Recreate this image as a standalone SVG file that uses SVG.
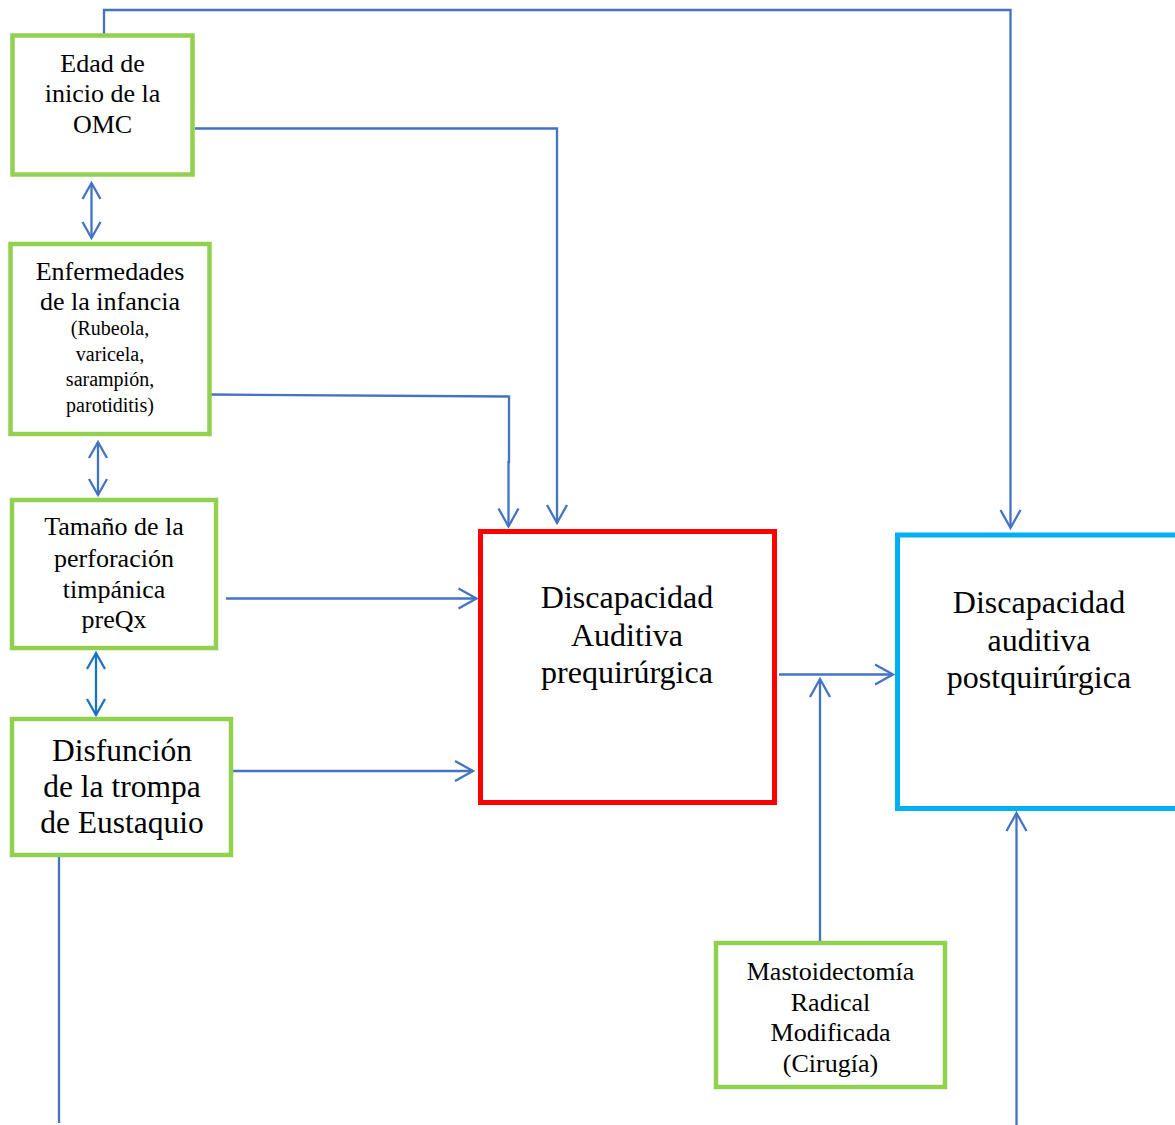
<svg xmlns="http://www.w3.org/2000/svg" width="1175" height="1125" viewBox="0 0 1175 1125">
<style>
.g{fill:#fff;stroke:#92D050;stroke-width:4.5}
.t{font-family:"Liberation Serif","Times New Roman",serif;fill:#000;text-anchor:middle}
.c{fill:none;stroke:#4472C4;stroke-width:2.3}
</style>
<defs>
<marker id="ah" markerUnits="userSpaceOnUse" markerWidth="24" markerHeight="24" viewBox="-20 -12 22 24" refX="0" refY="0" orient="auto">
<path d="M-18,-10 L0,0 L-18,10" fill="none" stroke="#4472C4" stroke-width="2.3"/>
</marker>
<marker id="as" markerUnits="userSpaceOnUse" markerWidth="22" markerHeight="22" viewBox="-18 -11 20 22" refX="0" refY="0" orient="auto-start-reverse">
<path d="M-16,-9 L0,0 L-16,9" fill="none" stroke="#4472C4" stroke-width="2.3"/>
</marker>
<marker id="as2" markerUnits="userSpaceOnUse" markerWidth="22" markerHeight="22" viewBox="-18 -11 20 22" refX="0" refY="0" orient="auto-start-reverse">
<path d="M-16,-9 L0,0 L-16,9" fill="none" stroke="#1A72C0" stroke-width="2.3"/>
</marker>
</defs>
<rect width="1175" height="1125" fill="#fff"/>
<g id="connectors">
<polyline class="c" points="104,35 104,10 1010.5,10 1010.5,528" marker-end="url(#ah)"/>
<polyline class="c" points="195,128.5 557,128.5 557,523" marker-end="url(#ah)"/>
<polyline class="c" points="210,394.5 509,396.5 509,462 508.5,462 508.5,526.5" marker-end="url(#ah)"/>
<line class="c" x1="226" y1="598.5" x2="476.5" y2="598.5" marker-end="url(#ah)"/>
<line class="c" x1="233" y1="771" x2="473" y2="771" marker-end="url(#ah)"/>
<line class="c" x1="779" y1="674.5" x2="893" y2="674.5" marker-end="url(#ah)"/>
<line class="c" x1="820" y1="941" x2="820" y2="679" marker-end="url(#ah)"/>
<line class="c" x1="1016.5" y1="1125" x2="1016.5" y2="813" marker-end="url(#ah)"/>
<line class="c" x1="59" y1="855" x2="59" y2="1123"/>
<line class="c" x1="91.5" y1="183" x2="91.5" y2="238" marker-start="url(#as)" marker-end="url(#as)"/>
<line class="c" x1="98" y1="442" x2="98" y2="495" marker-start="url(#as)" marker-end="url(#as)"/>
<line x1="96" y1="653" x2="96" y2="715" fill="none" stroke="#1A72C0" stroke-width="2.3" marker-start="url(#as2)" marker-end="url(#as2)"/>
</g>
<g id="edad">
<rect class="g" x="12.5" y="35.5" width="180" height="139"/>
<text class="t" font-size="26" x="102.5" y="72">Edad de</text>
<text class="t" font-size="26" x="102.5" y="102">inicio de la</text>
<text class="t" font-size="26" x="102.5" y="133">OMC</text>
</g>
<g id="enfermedades">
<rect class="g" x="10.5" y="244" width="199" height="190"/>
<text class="t" font-size="26" x="110" y="280">Enfermedades</text>
<text class="t" font-size="26" x="110" y="310">de la infancia</text>
<text class="t" font-size="20" x="110" y="335">(Rubeola,</text>
<text class="t" font-size="20" x="110" y="361">varicela,</text>
<text class="t" font-size="20" x="110" y="386">sarampión,</text>
<text class="t" font-size="20" x="110" y="412">parotiditis)</text>
</g>
<g id="tamano">
<rect class="g" x="12" y="500" width="204" height="148"/>
<text class="t" font-size="26" x="114" y="535">Tamaño de la</text>
<text class="t" font-size="26" x="114" y="567">perforación</text>
<text class="t" font-size="26" x="114" y="598">timpánica</text>
<text class="t" font-size="26" x="114" y="628">preQx</text>
</g>
<g id="disfuncion">
<rect class="g" x="12" y="719" width="219" height="136"/>
<text class="t" font-size="31.5" x="122" y="761">Disfunción</text>
<text class="t" font-size="31.5" x="122" y="797">de la trompa</text>
<text class="t" font-size="31.5" x="122" y="833">de Eustaquio</text>
</g>
<g id="prequirurgica">
<rect x="480.5" y="531.5" width="294" height="271" fill="#fff" stroke="#FF0000" stroke-width="5"/>
<text class="t" font-size="32" x="627" y="608">Discapacidad</text>
<text class="t" font-size="32" x="627" y="646">Auditiva</text>
<text class="t" font-size="32" x="627" y="683">prequirúrgica</text>
</g>
<g id="postquirurgica">
<rect x="897.5" y="535" width="300" height="273.5" fill="#fff" stroke="#00B0F0" stroke-width="5"/>
<text class="t" font-size="32" x="1039" y="613">Discapacidad</text>
<text class="t" font-size="32" x="1039" y="651">auditiva</text>
<text class="t" font-size="32" x="1039" y="688">postquirúrgica</text>
</g>
<g id="mastoidectomia">
<rect class="g" x="716" y="943" width="229" height="144"/>
<text class="t" font-size="26" x="830.5" y="980">Mastoidectomía</text>
<text class="t" font-size="26" x="830.5" y="1011">Radical</text>
<text class="t" font-size="26" x="830.5" y="1041">Modificada</text>
<text class="t" font-size="26" x="830.5" y="1072">(Cirugía)</text>
</g>
</svg>
